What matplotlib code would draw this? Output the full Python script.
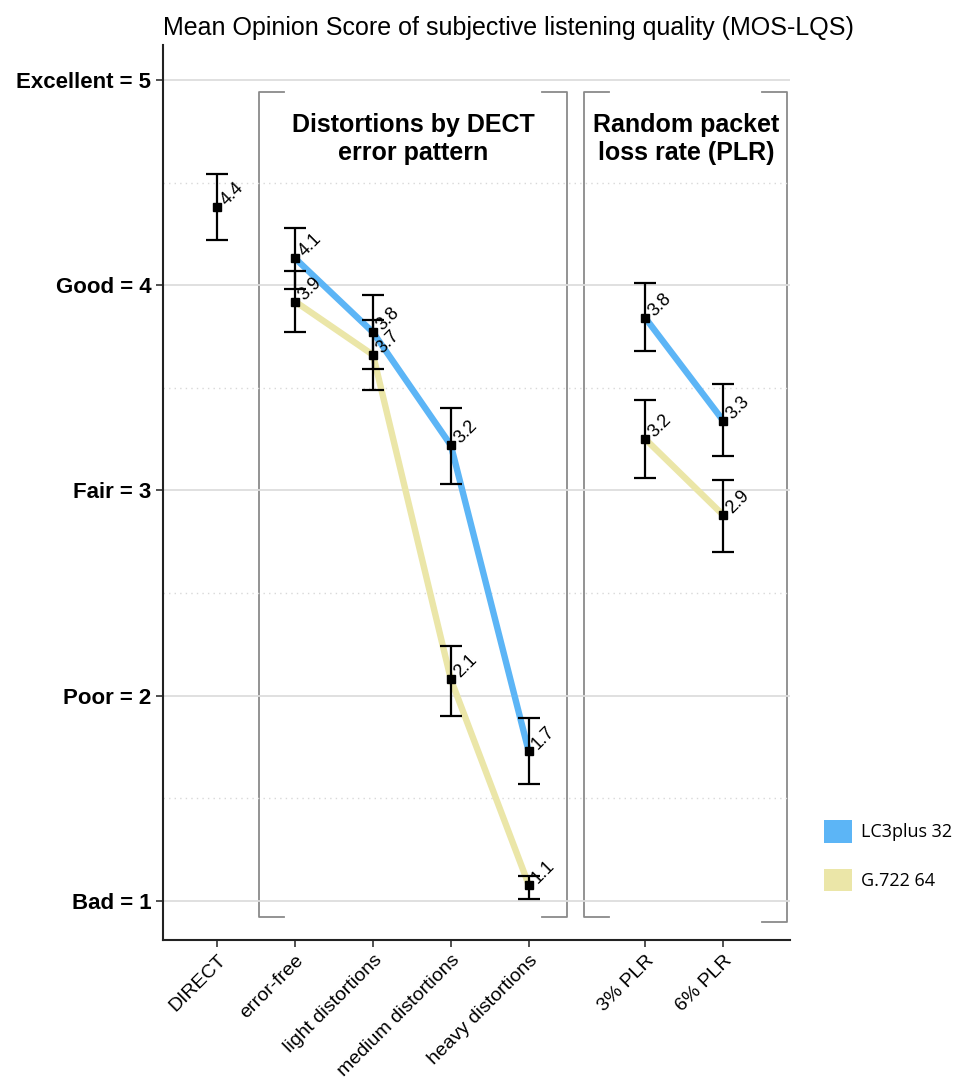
import matplotlib
matplotlib.use("Agg")
import matplotlib.pyplot as plt
from matplotlib.patches import Patch
from matplotlib.ticker import FixedLocator

FAM = ['Liberation Sans', 'DejaVu Sans']
plt.rcParams['font.family'] = FAM

# ---- data ----
categories = ["DIRECT", "error-free", "light distortions", "medium distortions",
              "heavy distortions", "3% PLR", "6% PLR"]
xpos = [1, 2, 3, 4, 5, 6.5, 7.5]

direct_mean = 4.38
direct_lo = 4.22
direct_hi = 4.54

lc3_dect_mean = [4.13, 3.77, 3.22, 1.73]
lc3_dect_lo = [3.98, 3.59, 3.03, 1.57]
lc3_dect_hi = [4.28, 3.95, 3.40, 1.89]
g722_dect_mean = [3.92, 3.66, 2.08, 1.08]
g722_dect_lo = [3.77, 3.49, 1.90, 1.01]
g722_dect_hi = [4.07, 3.83, 2.24, 1.12]

lc3_plr_mean = [3.84, 3.34]
lc3_plr_lo = [3.68, 3.17]
lc3_plr_hi = [4.01, 3.52]
g722_plr_mean = [3.25, 2.88]
g722_plr_lo = [3.06, 2.70]
g722_plr_hi = [3.44, 3.05]

ytick_vals = [1, 2, 3, 4, 5]
ytick_labels = ["Bad = 1", "Poor = 2", "Fair = 3", "Good = 4", "Excellent = 5"]
series_names = ["LC3plus 32", "G.722 64"]
blue = "#5cb5f6"
yellow = "#ebe6a8"

fig = plt.figure(figsize=(9.73, 10.86), dpi=100)
ax = fig.add_axes([0.1675, 0.1344, 0.8120 - 0.1675, 0.9586 - 0.1344])
ax.set_xlim(0.30, 8.36)
ax.set_ylim(0.81, 5.17)

# grid
ax.yaxis.set_major_locator(FixedLocator(ytick_vals))
ax.yaxis.set_minor_locator(FixedLocator([1.5, 2.5, 3.5, 4.5]))
ax.grid(axis='y', which='major', color='#dddddd', lw=1.3, zorder=0)
ax.grid(axis='y', which='minor', color='#d8d8d8', lw=1.0, ls=(0, (1, 3)), zorder=0)
ax.tick_params(axis='y', which='minor', length=0)
ax.set_yticklabels(ytick_labels, fontsize=16, fontweight='bold')
ax.set_xticks(xpos)
ax.set_xticklabels(categories, rotation=45, ha='right', rotation_mode='anchor', fontsize=14)
ax.tick_params(axis='both', which='major', length=5, width=1.2, color='#333333')
for s in ['top', 'right']:
    ax.spines[s].set_visible(False)
for s in ['left', 'bottom']:
    ax.spines[s].set_linewidth(1.5)
    ax.spines[s].set_color('#222222')

def draw_series(xs, mean, color):
    ax.plot(xs, mean, color=color, lw=4.6, solid_capstyle='butt', zorder=2)

def draw_err(xs, mean, lo, hi):
    yerr = [[m - l for m, l in zip(mean, lo)], [h - m for m, h in zip(mean, hi)]]
    ax.errorbar(xs, mean, yerr=yerr, fmt='s', color='black', ms=6, elinewidth=1.6,
                capsize=8, capthick=1.6, zorder=4)
    for x, m in zip(xs, mean):
        ax.annotate(f"{m:.1f}", (x, m), xytext=(4.5, 3), textcoords='offset points',
                    rotation=45, rotation_mode='anchor', ha='left', va='center',
                    fontsize=13, zorder=5)

x_dect = xpos[1:5]
x_plr = xpos[5:7]
draw_series(x_dect, lc3_dect_mean, blue)
draw_series(x_dect, g722_dect_mean, yellow)
draw_series(x_plr, lc3_plr_mean, blue)
draw_series(x_plr, g722_plr_mean, yellow)
draw_err([xpos[0]], [direct_mean], [direct_lo], [direct_hi])
draw_err(x_dect, lc3_dect_mean, lc3_dect_lo, lc3_dect_hi)
draw_err(x_dect, g722_dect_mean, g722_dect_lo, g722_dect_hi)
draw_err(x_plr, lc3_plr_mean, lc3_plr_lo, lc3_plr_hi)
draw_err(x_plr, g722_plr_mean, g722_plr_lo, g722_plr_hi)

# group brackets
bc = '#8a8a8a'
def bracket(x, top, bot, tick, side):
    ax.plot([x + side * tick, x, x, x + side * tick], [top, top, bot, bot],
            color=bc, lw=1.3, zorder=1, clip_on=False)

bracket(1.54, 4.94, 0.92, 0.32, +1)
bracket(5.49, 4.94, 0.92, 0.32, -1)
bracket(5.71, 4.94, 0.92, 0.32, +1)
bracket(8.32, 4.94, 0.90, 0.32, -1)

ax.text(3.52, 4.71, "Distortions by DECT\nerror pattern", ha='center', va='center',
        fontsize=18, fontweight='bold', linespacing=1.2)
ax.text(7.02, 4.71, "Random packet\nloss rate (PLR)", ha='center', va='center',
        fontsize=18, fontweight='bold', linespacing=1.2)

fig.text(0.1675, 1 - 28 / 1086, "Mean Opinion Score of subjective listening quality (MOS-LQS)",
         ha='left', va='center', fontsize=18)

handles = [Patch(facecolor=blue, edgecolor='none'), Patch(facecolor=yellow, edgecolor='none')]
leg = fig.legend(handles, series_names, loc='center left', bbox_to_anchor=(0.83, 0.212), frameon=False,
                 handlelength=1.55, handleheight=1.55, labelspacing=1.45,
                 handletextpad=0.5, prop={'family': 'Open Sans', 'size': 13})

fig.savefig("out.png", dpi=100)
